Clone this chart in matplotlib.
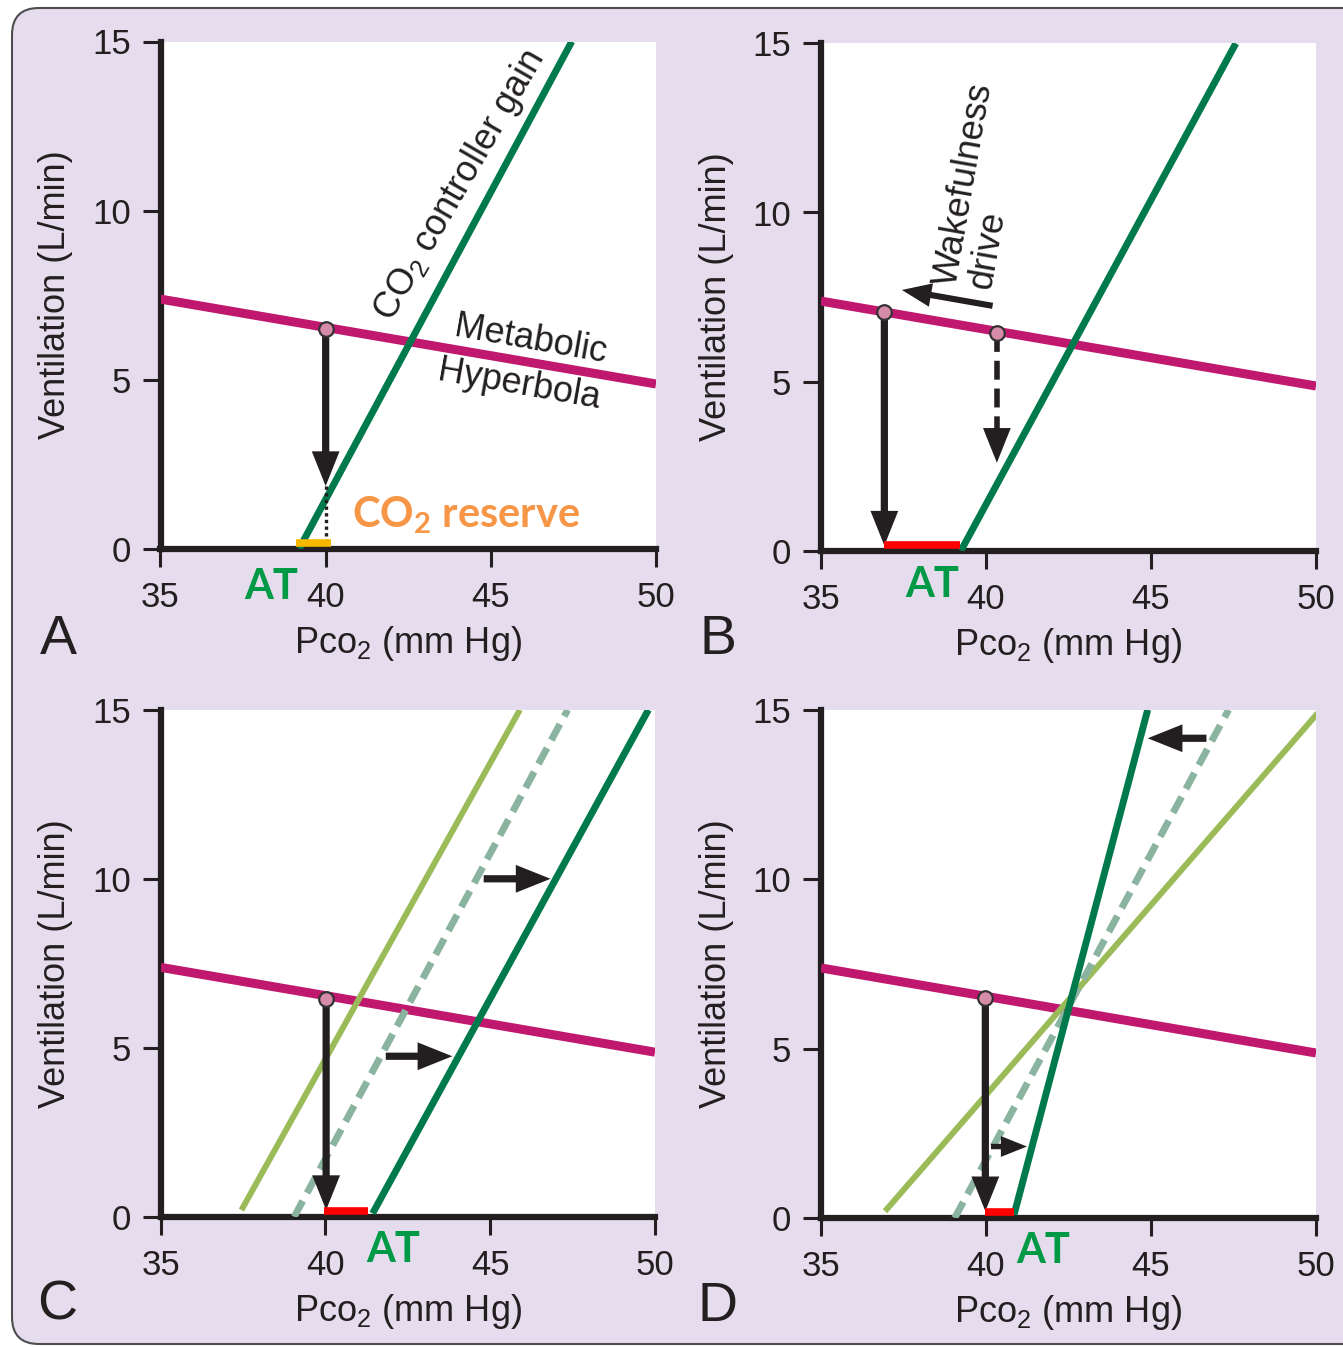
import matplotlib
matplotlib.use('Agg')
import matplotlib.pyplot as plt
from matplotlib.patches import FancyBboxPatch

plt.rcParams['font.family'] = ['Liberation Sans', 'DejaVu Sans']
plt.rcParams['mathtext.fontset'] = 'custom'
plt.rcParams['mathtext.rm'] = 'Liberation Sans'
plt.rcParams['mathtext.it'] = 'Liberation Sans:italic'
plt.rcParams['mathtext.bf'] = 'Lato:bold'

# ---- data (Pco2 in mm Hg, ventilation in L/min) ----
xticks = [35, 40, 45, 50]
yticks = [0, 5, 10, 15]

# metabolic hyperbola, same in every panel
metab_x = [35, 50]
metab_y = [7.38, 4.87]

# CO2 controller gain lines (x where line starts / ends)
gain_y = [0, 15]
gain_a_x = [39.2, 47.45]
gain_b_x = [39.24, 47.57]
old_gain_x = [39.05, 47.35]          # dashed line in C and D
c_low_x, c_low_y = [37.45, 45.9], [0.2, 15]
c_new_x, c_new_y = [41.43, 49.8], [0.1, 15]
d_low_x, d_low_y = [36.94, 50.05], [0.2, 14.9]
d_new_x, d_new_y = [40.85, 44.9], [0.1, 15]

# operating points on the metabolic hyperbola
pt_a = (40.0, 6.5)
pt_b_sleep = (36.92, 7.06)
pt_b_wake = (40.33, 6.44)
pt_c = (40.02, 6.45)
pt_d = (39.98, 6.5)

# reserve bars along the x axis
reserve_a = [39.1, 40.15]
reserve_b = [36.92, 39.2]
reserve_c = [39.97, 41.3]
reserve_d = [39.97, 40.85]

# arrow ends
drop_a = 1.85
drop_b_sleep = 0.15
drop_b_wake = 2.6
drop_c = 0.2
drop_d = 0.2
wake_arrow = [(40.2, 7.24), (37.45, 7.71)]
shift_c = [[(44.8, 10.0), (46.83, 10.0)], [(41.83, 4.75), (43.85, 4.75)]]
shift_d = [[(46.68, 14.16), (44.9, 14.16)], [(40.15, 2.11), (41.24, 2.11)]]

# colours
MAGENTA = '#c0186e'
DKGREEN = '#007a4c'
LTGREEN = '#9bbb59'
DASHGREEN = '#8ab49f'
RED = '#ff0000'
GOLD = '#f6b800'
ORANGE = '#f79646'
ATGREEN = '#009a46'
INK = '#231f20'
LAVENDER = '#e5dded'

W, H = 1343, 1347
fig = plt.figure(figsize=(W / 100, H / 100), dpi=100, facecolor='white')

frame = FancyBboxPatch((12 / W, 1 - 1344 / H), 1360 / W, 1336 / H,
                       boxstyle='round,pad=0,rounding_size=0.02',
                       transform=fig.transFigure, facecolor=LAVENDER,
                       edgecolor='#4d4d4d', lw=1.5, zorder=-10)
fig.add_artist(frame)


def make_axes(left, right, top, bottom):
    ax = fig.add_axes([left / W, 1 - bottom / H, (right - left) / W, (bottom - top) / H])
    ax.set_facecolor('white')
    ax.set_xlim(35, 50)
    ax.set_ylim(0, 15)
    ax.set_xticks(xticks)
    ax.set_yticks(yticks)
    for s in ['top', 'right']:
        ax.spines[s].set_visible(False)
    for s in ['left', 'bottom']:
        ax.spines[s].set_linewidth(4.5)
        ax.spines[s].set_color(INK)
        ax.spines[s].set_capstyle('projecting')
    ax.tick_params(direction='out', length=13, width=2.2, color=INK,
                   labelsize=25, labelcolor=INK)
    ax.tick_params(axis='y', pad=8.5)
    ax.tick_params(axis='x', pad=10)
    ax.set_ylabel('Ventilation (L/min)', fontsize=26, color=INK)
    ax.yaxis.set_label_coords(-105 / (right - left), 0.5)
    ax.yaxis.label.set_va('center')
    ax.set_xlabel(r'Pco$_2$ (mm Hg)', fontsize=26, color=INK)
    ax.xaxis.set_label_coords(0.5, -94.5 / (bottom - top))
    ax.xaxis.label.set_va('center')
    ax.plot(metab_x, metab_y, color=MAGENTA, lw=6.5, solid_capstyle='butt', zorder=3)
    return ax


def arrow(ax, start, end, scale=20):
    ax.annotate('', xy=end, xytext=start,
                arrowprops=dict(arrowstyle='simple,head_length=1.25,head_width=1.0,tail_width=0.26',
                                mutation_scale=scale, fc=INK, ec='none', lw=0,
                                shrinkA=0, shrinkB=0), zorder=5)


def point(ax, p):
    ax.plot(*p, 'o', ms=10.5, mfc='#d68ca8', mec='#333333', mew=1.6, zorder=7)


def bar(ax, xs, color):
    ax.plot(xs, [0.17, 0.17], color=color, lw=5.5, solid_capstyle='butt', zorder=6, clip_on=False)


def label_at(ax, x, y):
    ax.text(x, y, 'AT', color=ATGREEN, fontsize=30, fontweight='bold', family='Lato',
            ha='center', va='center', clip_on=False)


# ---- panel A ----
axA = make_axes(160.5, 656, 41.5, 548.6)
axA.plot(gain_a_x, gain_y, color=DKGREEN, lw=5, solid_capstyle='butt', zorder=4)
bar(axA, reserve_a, GOLD)
arrow(axA, pt_a, (pt_a[0], drop_a))
axA.plot([pt_a[0], pt_a[0]], [drop_a, 0.2], color=INK, lw=2.4, ls=(0, (1, 1)), zorder=5)
point(axA, pt_a)
axA.text(44.07, 10.73, r'CO$_2$ controller gain', fontsize=26, color=INK, rotation=60,
         rotation_mode='anchor', ha='center', va='center')
axA.text(46.19, 6.17, 'Metabolic', fontsize=26, color=INK, rotation=-10,
         rotation_mode='anchor', ha='center', va='center')
axA.text(45.84, 4.84, 'Hyperbola', fontsize=26, color=INK, rotation=-10,
         rotation_mode='anchor', ha='center', va='center')
axA.text(40.8, 0.64, r'$\mathbf{CO_2}$ reserve', family='Lato', fontweight='bold',
         fontsize=30, color=ORANGE, ha='left', va='baseline')
label_at(axA, 38.36, -1.14)

# ---- panel B ----
axB = make_axes(821, 1316, 43.4, 550.7)
axB.plot(gain_b_x, gain_y, color=DKGREEN, lw=5, solid_capstyle='butt', zorder=4)
bar(axB, reserve_b, RED)
arrow(axB, pt_b_sleep, (pt_b_sleep[0], drop_b_sleep))
axB.plot([pt_b_wake[0], pt_b_wake[0]], [pt_b_wake[1], drop_b_wake + 0.5], color=INK,
         lw=4, ls=(0, (3.4, 1.6)), zorder=5)
arrow(axB, (pt_b_wake[0], drop_b_wake + 0.9), (pt_b_wake[0], drop_b_wake))
arrow(axB, wake_arrow[0], wake_arrow[1], scale=17)
point(axB, pt_b_sleep)
point(axB, pt_b_wake)
axB.text(39.33, 10.84, 'Wakefulness', fontsize=26, color=INK, rotation=80,
         rotation_mode='anchor', ha='center', va='center')
axB.text(40.06, 8.89, 'drive', fontsize=26, color=INK, rotation=80,
         rotation_mode='anchor', ha='center', va='center')
label_at(axB, 38.36, -1.01)

# ---- panel C ----
axC = make_axes(160.7, 655, 709.8, 1216.8)
axC.plot(c_low_x, c_low_y, color=LTGREEN, lw=4.3, solid_capstyle='butt', zorder=4)
axC.plot(old_gain_x, gain_y, color=DASHGREEN, lw=5, ls=(0, (2.6, 1.3)), zorder=4)
axC.plot(c_new_x, c_new_y, color=DKGREEN, lw=5, solid_capstyle='butt', zorder=4)
bar(axC, reserve_c, RED)
arrow(axC, pt_c, (pt_c[0], drop_c))
for s, e in shift_c:
    arrow(axC, s, e)
point(axC, pt_c)
label_at(axC, 42.04, -0.98)

# ---- panel D ----
axD = make_axes(821, 1316, 709.8, 1218)
axD.plot(d_low_x, d_low_y, color=LTGREEN, lw=4.3, solid_capstyle='butt', zorder=4)
axD.plot(old_gain_x, gain_y, color=DASHGREEN, lw=5, ls=(0, (2.6, 1.3)), zorder=4)
axD.plot(d_new_x, d_new_y, color=DKGREEN, lw=5, solid_capstyle='butt', zorder=4)
bar(axD, reserve_d, RED)
arrow(axD, pt_d, (pt_d[0], drop_d))
arrow(axD, shift_d[0][0], shift_d[0][1])
arrow(axD, shift_d[1][0], shift_d[1][1], scale=15)
point(axD, pt_d)
label_at(axD, 41.73, -0.98)

# panel letters
for letter, px, py in [('A', 58, 640), ('B', 718, 640), ('C', 57, 1305), ('D', 718, 1307)]:
    fig.text(px / W, 1 - py / H, letter, fontsize=40, color=INK, ha='center', va='center')

fig.savefig('out.png', dpi=100, facecolor='white')
